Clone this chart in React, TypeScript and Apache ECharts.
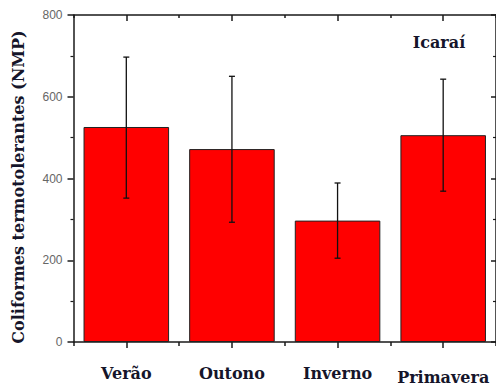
import React, { useEffect, useRef } from "react";
import * as echarts from "echarts";

const categories = ["Verão", "Outono", "Inverno", "Primavera"];
const means = [526, 472, 297, 506];
const errLow = [352, 293, 205, 369];
const errHigh = [697, 650, 389, 643];
const yTicks = { min: 0, max: 800, interval: 200 };
const siteLabel = "Icaraí";
const yTitle = "Coliformes termotolerantes (NMP)";

const AXIS = "#1a1a1a";
const SERIF = "DejaVu Serif";
const TEXT = "#15152a";

export default function App() {
  const ref = useRef<HTMLDivElement>(null);
  useEffect(() => {
    if (!ref.current) return;
    const chart = echarts.init(ref.current, undefined, { renderer: "svg" });
    const lineStyle = { color: AXIS, width: 1.5 };
    const baseX = {
      type: "category" as const,
      data: categories,
      axisLabel: { show: false },
      splitLine: { show: false },
    };
    chart.setOption({
      animation: false,
      backgroundColor: "#ffffff",
      grid: { left: 73.5, top: 15, right: -2, bottom: 48, containLabel: false },
      xAxis: [
        {
          ...baseX,
          position: "bottom",
          axisLine: { show: true, lineStyle },
          axisTick: { show: true, alignWithLabel: true, inside: false, length: 6, lineStyle },
          axisLabel: {
            show: true,
            interval: 0,
            hideOverlap: false,
            margin: 23,
            fontFamily: SERIF,
            fontWeight: "bold",
            fontSize: 16,
            color: TEXT,
            formatter: (v: string) => (v === "Primavera" ? "{p|" + v + "}" : v),
            rich: { p: { fontFamily: SERIF, fontWeight: "bold", fontSize: 16, color: TEXT, padding: [4, 0, 0, 0] } },
          },
        },
        {
          ...baseX,
          position: "bottom",
          axisLine: { show: false },
          axisTick: { show: true, interval: 0, alignWithLabel: false, inside: false, length: 4, lineStyle },
        },
        {
          ...baseX,
          position: "top",
          axisLine: { show: true, lineStyle },
          axisTick: { show: true, interval: 0, alignWithLabel: true, inside: true, length: 6, lineStyle },
        },
        {
          ...baseX,
          position: "top",
          axisLine: { show: false },
          axisTick: { show: true, interval: 0, alignWithLabel: false, inside: true, length: 3, lineStyle },
        },
      ],
      yAxis: [
        {
          type: "value",
          position: "left",
          ...yTicks,
          axisLine: { show: true, lineStyle },
          axisTick: { show: true, inside: false, length: 6, lineStyle },
          minorTick: { show: true, splitNumber: 2, length: 3, lineStyle: { color: AXIS, width: 1.2 } },
          axisLabel: { color: "#666", fontFamily: "Liberation Sans", fontSize: 12, margin: 11 },
          splitLine: { show: false },
        },
        {
          type: "value",
          position: "right",
          ...yTicks,
          axisLine: { show: true, lineStyle },
          axisTick: { show: true, inside: true, length: 5, lineStyle },
          minorTick: { show: true, splitNumber: 2, length: 3, lineStyle: { color: AXIS, width: 1.2 } },
          axisLabel: { show: false },
          splitLine: { show: false },
        },
      ],
      graphic: [
        {
          type: "text",
          x: 439,
          y: 42,
          style: {
            text: siteLabel,
            fontFamily: SERIF,
            fontWeight: "bold",
            fontSize: 16,
            fill: TEXT,
            textAlign: "center",
            textVerticalAlign: "middle",
          },
        },
        {
          type: "text",
          x: 18,
          y: 187,
          rotation: Math.PI / 2,
          style: {
            text: yTitle,
            fontFamily: SERIF,
            fontWeight: "bold",
            fontSize: 16,
            fill: TEXT,
            textAlign: "center",
            textVerticalAlign: "middle",
          },
        },
      ],
      series: [
        {
          type: "bar",
          xAxisIndex: 0,
          yAxisIndex: 0,
          data: means,
          barWidth: "81%",
          itemStyle: { color: "#ff0000", borderColor: "#222", borderWidth: 1 },
          z: 2,
        },
        {
          type: "custom",
          xAxisIndex: 0,
          yAxisIndex: 0,
          z: 3,
          data: categories.map((_, i) => [i, errLow[i], errHigh[i]]),
          renderItem: (_params: any, api: any) => {
            const x = api.value(0);
            const lo = api.coord([x, api.value(1)]);
            const hi = api.coord([x, api.value(2)]);
            const cap = 3;
            const style = { stroke: "#111", lineWidth: 1.3 };
            return {
              type: "group",
              children: [
                { type: "line", shape: { x1: hi[0], y1: hi[1], x2: lo[0], y2: lo[1] }, style },
                { type: "line", shape: { x1: hi[0] - cap, y1: hi[1], x2: hi[0] + cap, y2: hi[1] }, style },
                { type: "line", shape: { x1: lo[0] - cap, y1: lo[1], x2: lo[0] + cap, y2: lo[1] }, style },
              ],
            };
          },
        },
      ],
    });
    return () => chart.dispose();
  }, []);
  return (
    <div
      ref={ref}
      style={{ position: "fixed", left: 0, top: 0, width: 496, height: 390, background: "#fff" }}
    />
  );
}
